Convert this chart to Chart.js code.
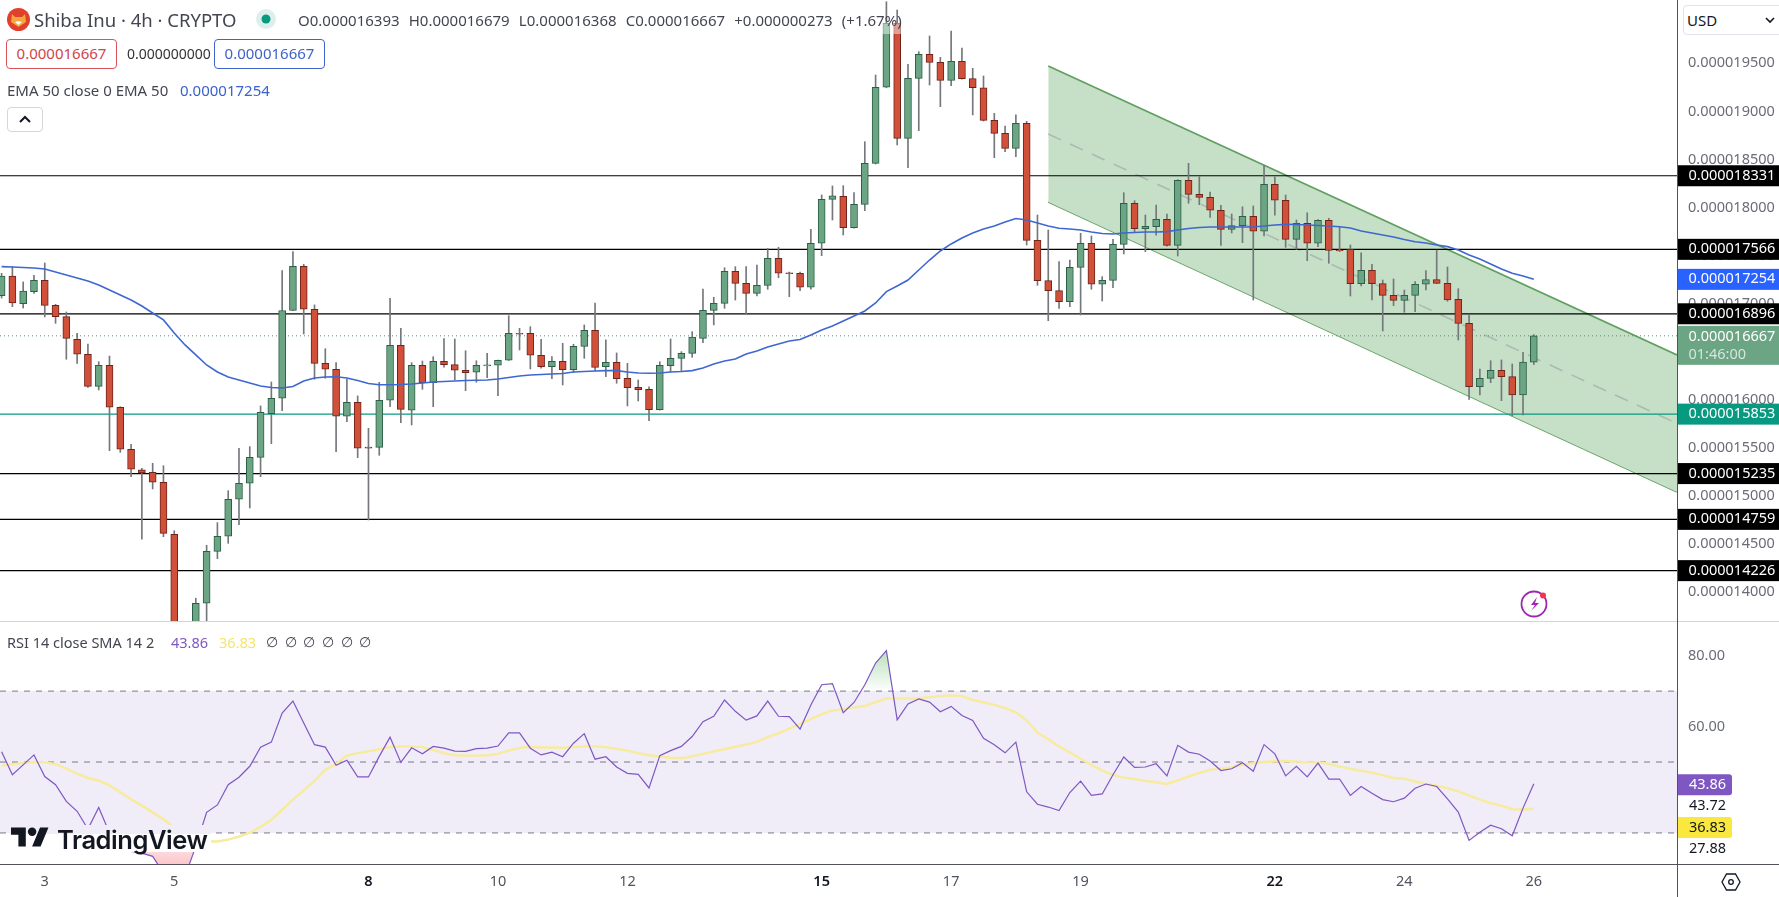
<!DOCTYPE html>
<html>
<head>
<meta charset="utf-8">
<title>Shiba Inu 4h</title>
<script src="https://cdn.jsdelivr.net/npm/chart.js@4"></script>
<style>
  html, body { margin: 0; padding: 0; background: #fff; }
  body { width: 1779px; height: 897px; position: relative; overflow: hidden; font-family: "Noto Sans", sans-serif; color: #434651; }
  canvas { position: absolute; left: 0; display: block; }
  #priceChart { top: 0; }
  #rsiChart { top: 622px; }
  .t { position: absolute; white-space: nowrap; line-height: 20px; font-size: 15px; }
  .box { position: absolute; box-sizing: border-box; border: 1px solid; border-radius: 4px; text-align: center; font-size: 15px; line-height: 27px; height: 30px; background: #fff; }
  .rule { position: absolute; }
  .btn { position: absolute; box-sizing: border-box; border: 1px solid #e0e3eb; border-radius: 4px; background: #fff; }
  svg { position: absolute; overflow: visible; }
</style>
</head>
<body>
<canvas id="priceChart" width="1779" height="622"></canvas>
<canvas id="rsiChart" width="1779" height="275"></canvas>

<!-- separators and axis line -->
<div class="rule" style="left:0;top:621px;width:1779px;height:1px;background:#d1d4dc"></div>
<div class="rule" style="left:0;top:864px;width:1779px;height:1px;background:#50535e"></div>
<div class="rule" style="left:1677px;top:0;width:1px;height:897px;background:#50535e"></div>

<!-- strip behind the legend, it fades the candles a little -->
<div class="rule" style="left:860px;top:23px;width:45px;height:11px;background:rgba(255,255,255,.45)"></div>

<!-- legend -->
<svg style="left:7px;top:8px" width="23" height="23" viewBox="0 0 23 23">
  <circle cx="11.5" cy="11.5" r="11.5" fill="#e0402c"/>
  <path d="M5 6l3 3h7l3-3 1 8-7.500 5-7.500-5z" fill="#f5a63c"/>
  <path d="M8 14l3.500 3 3.500-3-3.500-1z" fill="#fff"/>
</svg>
<div class="t" style="left:34px;top:10px;font-size:18.500px">Shiba Inu · 4h · CRYPTO</div>
<svg style="left:256px;top:9px" width="20" height="20"><circle cx="10" cy="10" r="10" fill="#dcefec"/><circle cx="10" cy="10" r="4.500" fill="#089981"/></svg>
<div class="t" style="left:298px;top:10px;word-spacing:5.300px">O0.000016393 H0.000016679 L0.000016368 C0.000016667 +0.000000273 (+1.67%)</div>

<div class="box" style="left:6px;top:39px;width:111px;border-color:#d8545a;color:#d0454b">0.000016667</div>
<div class="t" style="left:127px;top:44px;font-size:14px;color:#333">0.000000000</div>
<div class="box" style="left:214px;top:39px;width:111px;border-color:#3f63c8;color:#3f63c8">0.000016667</div>

<div class="t" style="left:7px;top:80px">EMA 50 close 0 EMA 50</div>
<div class="t" style="left:180px;top:80px;color:#3b62cc">0.000017254</div>

<div class="btn" style="left:7px;top:107px;width:36px;height:25px;border-color:#d6d6d6"></div>
<svg style="left:19px;top:115px" width="12" height="8"><path d="M1 7l5-5 5 5" fill="none" stroke="#131722" stroke-width="2"/></svg>

<!-- currency button -->
<div class="btn" style="left:1683px;top:5px;width:100px;height:30px"></div>
<div class="t" style="left:1687px;top:10px;font-size:15px;color:#131722">USD</div>
<svg style="left:1765px;top:17px" width="10" height="6"><path d="M1 1l4 4 4-4" fill="none" stroke="#131722" stroke-width="1.600"/></svg>

<!-- lightning badge -->
<svg style="left:1520px;top:590px" width="28" height="28" viewBox="0 0 28 28">
  <circle cx="14" cy="14" r="12.500" fill="none" stroke="#9c27b0" stroke-width="1.800"/>
  <path d="M17 7l-6 8h4l-4 6 8-8h-4z" fill="#9c27b0"/>
  <circle cx="23" cy="5.500" r="3" fill="#f23645"/>
</svg>

<!-- RSI legend -->
<div class="t" style="left:7px;top:632px;font-size:14.500px">RSI 14 close SMA 14 2</div>
<div class="t" style="left:171px;top:632px;font-size:14.500px;color:#7e57c2">43.86</div>
<div class="t" style="left:219px;top:632px;font-size:14.500px;color:#f5e56b">36.83</div>
<div class="t" style="left:266px;top:632px;font-size:14px;word-spacing:3px;color:#434651">∅ ∅ ∅ ∅ ∅ ∅</div>

<!-- TradingView mark, hides the lines that pass under it -->
<div class="rule" style="left:9px;top:825px;width:202px;height:9px;background:#f0ecf8;z-index:2"></div>
<div class="rule" style="left:9px;top:834px;width:202px;height:18px;background:#fff;z-index:2"></div>
<svg style="left:11px;top:823px;z-index:3" width="38" height="30" viewBox="0 0 36 28">
  <path d="M14 22H7V11H0V4h14v18zM28 22h-8l7.500-18h8L28 22z" fill="#131722"/>
  <circle cx="20" cy="8" r="4" fill="#131722"/>
</svg>
<div class="t" style="left:57px;top:827px;z-index:3;font-family:Inter,sans-serif;font-weight:600;font-size:25.500px;line-height:26px;letter-spacing:-.45px;color:#131722">TradingView</div>

<!-- settings icon -->
<svg style="left:1721px;top:873px" width="20" height="18" viewBox="0 0 20 18">
  <path d="M5.500 1h9l4.500 8-4.500 8h-9L1 9z" fill="none" stroke="#131722" stroke-width="1.300"/>
  <circle cx="10" cy="9" r="2.300" fill="none" stroke="#131722" stroke-width="1.300"/>
</svg>

<script>
// prices are kept in billionths, 16667 means 0.000016667
const opens = [
  17084,17289,17001,17126,17244,16984,16866,16631,16475,16142,
  16361,15924,15488,15275,15248,15145,14604,13297,13505,13887,
  14427,14583,14968,15134,15404,15858,16018,16930,17390,16943,
  16381,16319,15831,15976,15511,15508,15997,16569,15893,16361,
  16180,16402,16367,16309,16288,16355,16361,16413,16693,16693,
  16465,16346,16402,16315,16558,16725,16346,16392,16225,16132,
  16111,15899,16357,16433,16485,16641,16932,17005,17338,17213,
  17109,17192,17473,17322,17317,17172,17629,18086,18118,17791,
  18034,18460,19251,19916,18720,19344,19594,19510,19323,19521,
  19340,19246,18907,18772,18616,18876,17660,17240,17136,17022,
  17379,17629,17203,17244,17618,18045,17781,17802,17878,17608,
  18284,18138,18107,17972,17774,17812,17910,17754,18242,18076,
  17670,17837,17629,17868,17556,17566,17209,17348,17209,17088,
  17036,17088,17203,17251,17213,17046,16797,16138,16225,16309,
  16242,16052,16393
];
const closes = [
  17289,17008,17133,17244,16984,16866,16641,16475,16142,16361,
  15924,15488,15280,15241,15145,14614,13297,13401,13887,14427,
  14583,14968,15134,15404,15872,16018,16930,17390,16943,16381,
  16319,15831,15976,15498,15500,15997,16569,15903,16361,16180,
  16402,16367,16309,16284,16361,16365,16413,16693,16685,16465,
  16346,16402,16315,16558,16725,16338,16392,16221,16128,16107,
  15899,16361,16433,16485,16655,16932,17005,17338,17213,17109,
  17192,17473,17317,17312,17172,17629,18086,18121,17791,18034,
  18460,19251,19916,18720,19344,19594,19510,19323,19521,19340,
  19246,18907,18772,18616,18876,17660,17240,17136,17022,17379,
  17629,17203,17244,17618,18045,17781,17806,17878,17608,18284,
  18138,18107,17972,17774,17812,17910,17754,18242,18076,17670,
  17837,17629,17868,17556,17550,17209,17348,17209,17088,17036,
  17088,17203,17251,17213,17039,16797,16138,16225,16309,16242,
  16052,16393,16667
];
const highs = [
  17317,17386,17227,17296,17424,16995,16915,16693,16582,16398,
  16457,15930,15540,15290,15342,15317,14641,13500,13939,14490,
  14725,15057,15498,15515,15938,16187,17344,17542,17411,16988,
  16533,16388,16215,16042,15706,16184,17057,16745,16388,16405,
  16450,16637,16634,16512,16408,16485,16415,16876,16745,16762,
  16631,16450,16589,16579,16780,17008,16624,16489,16381,16208,
  16138,16398,16634,16502,16710,17154,17068,17375,17386,17386,
  17403,17577,17587,17330,17330,17774,18131,18225,18228,18155,
  18685,19378,20140,20054,19490,19621,19784,19562,19836,19659,
  19448,19368,18980,18848,18963,18897,17923,17767,17438,17455,
  17733,17705,17282,17670,18155,18072,17923,18027,17933,18290,
  18460,18321,18162,18024,17933,18009,18017,18440,18321,18131,
  17871,17947,17875,17889,17801,17611,17531,17411,17247,17258,
  17143,17230,17344,17559,17383,17157,16884,16322,16408,16416,
  16374,16496,16679
];
const lows = [
  17060,16970,16956,17109,16863,16797,16423,16381,16130,16104,
  15473,15456,15203,14552,15075,14579,13173,13100,13400,13600,
  14350,14510,14704,14877,15203,15546,15889,16928,16686,16215,
  16226,15463,15774,15400,14753,15425,15930,15764,15740,16111,
  15930,16340,16208,16097,16184,16232,16045,16410,16520,16322,
  16330,16221,16156,16288,16433,16301,16242,16174,15938,15990,
  15785,15895,16294,16301,16444,16596,16780,16953,17039,16894,
  17081,17151,17271,17074,17136,17151,17500,17871,17715,17785,
  17968,18453,19245,18651,18415,18799,19274,19049,19267,19335,
  18963,18900,18519,18581,18529,17611,17192,16824,16953,16970,
  16884,17151,17029,17167,17518,17749,17542,17712,17600,17497,
  18045,18030,17899,17608,17736,17635,17039,17705,17920,17587,
  17566,17448,17594,17421,17542,17081,17185,17039,16717,16980,
  16912,16918,17143,17210,17026,16624,16007,16052,16180,15993,
  15834,15844,16368
];
const ema50 = [
  17386,17382,17377,17372,17362,17331,17299,17268,17237,17195,
  17143,17091,17039,16977,16904,16832,16696,16572,16468,16364,
  16291,16239,16208,16177,16146,16130,16125,16140,16197,16229,
  16239,16242,16229,16203,16172,16159,16159,16161,16166,16177,
  16187,16192,16197,16203,16205,16208,16218,16234,16250,16260,
  16265,16270,16275,16291,16296,16301,16305,16305,16291,16281,
  16278,16281,16291,16296,16305,16333,16374,16405,16426,16478,
  16509,16551,16582,16613,16629,16676,16728,16769,16821,16873,
  16925,17008,17126,17185,17247,17351,17455,17549,17622,17684,
  17736,17778,17809,17850,17887,17871,17840,17809,17785,17778,
  17767,17746,17731,17726,17736,17741,17746,17746,17750,17767,
  17783,17793,17798,17798,17798,17798,17798,17809,17819,17826,
  17824,17819,17814,17809,17801,17788,17757,17736,17715,17694,
  17668,17645,17632,17611,17594,17559,17507,17466,17414,17362,
  17317,17289,17254
];
const rsi = [
  52.9,46.4,49.2,52.0,45.9,43.6,38.9,36.1,31.1,37.2,
  30.0,26.7,24.8,24.3,23.4,18.7,15.9,17.8,26.2,35.8,
  37.9,43.6,45.7,48.8,54.2,55.6,63.8,67.2,61.0,54.9,
  54.2,49.1,50.5,45.8,45.8,51.6,57.0,49.9,54.0,52.3,
  54.4,53.9,53.1,53.0,53.8,53.9,54.5,58.2,58.2,53.9,
  52.0,52.8,51.5,55.3,58.0,50.8,51.5,48.6,46.8,46.5,
  42.7,51.8,53.2,54.4,57.2,61.4,62.9,67.5,64.3,61.8,
  63.0,67.2,62.9,62.8,59.3,66.1,71.8,72.1,63.9,66.8,
  71.8,77.9,81.4,61.9,66.4,67.8,66.9,64.2,65.7,63.1,
  61.7,56.7,54.9,52.6,55.6,41.6,38.1,37.3,36.3,41.4,
  44.6,40.6,41.0,46.4,51.4,48.5,48.6,49.5,46.1,54.7,
  52.8,52.2,50.3,47.6,48.1,49.8,47.4,54.9,52.3,46.1,
  48.8,45.8,49.7,45.2,45.2,40.6,43.1,41.2,39.4,38.8,
  39.8,42.6,43.8,43.1,39.6,35.9,27.9,30.2,32.2,31.2,
  29.2,37.0,43.86
];
const rsiMa = [
  49.0,49.4,49.7,50.0,49.9,49.4,48.1,46.7,45.5,44.8,
  43.4,41.5,39.5,37.7,35.8,33.9,31.4,29.5,28.1,27.6,
  27.6,28.1,29.0,30.0,31.7,33.7,36.5,39.4,42.0,44.7,
  47.8,49.5,51.8,52.5,53.0,53.6,54.2,54.4,54.4,54.2,
  53.4,52.5,51.9,51.8,51.8,51.9,52.3,53.2,54.0,54.3,
  54.1,54.1,54.0,54.2,54.4,54.4,54.2,53.7,53.2,52.5,
  51.9,51.6,51.2,51.1,51.6,52.3,53.0,53.6,54.3,54.9,
  55.7,57.0,58.1,59.4,60.8,62.1,63.5,64.5,64.9,65.4,
  65.8,66.9,67.9,67.9,67.9,68.0,68.3,68.6,68.8,68.6,
  67.5,66.8,66.1,65.2,64.0,61.7,58.3,56.4,54.4,52.7,
  50.9,49.2,47.6,46.4,45.6,45.2,44.7,44.3,43.8,44.8,
  45.9,46.9,47.8,48.2,48.5,49.2,49.7,50.0,50.2,50.3,
  50.1,49.9,49.9,49.5,48.7,48.1,47.5,47.0,46.3,45.5,
  45.3,44.5,43.8,43.3,42.6,41.7,40.5,39.4,38.4,37.7,
  36.7,36.6,36.83
];

// drawn levels, in the same billionths
const blackLevels = [18331, 17566, 16896, 15235, 14759, 14226];
const tealLevel = 15853;
const lastPrice = 16667;

// regression channel, from candle 97 to the right edge of the pane
const channelXs = [97, 155.27];
const channelTop = [19472, 16468];
const channelMid = [18765, 15756];
const channelBottom = [18058, 15044];

// axes
const xMin = -0.148;
const xMax = 155.27;
const priceMin = 13692;
const priceMax = 20158;
const priceTicks = [14000, 14500, 15000, 15500, 16000, 16500, 17000, 17500, 18000, 18500, 19000, 19500];
const rsiMin = 21.24;
const rsiMax = 89.49;
const rsiTicks = [80, 60];
const rsiBands = [70, 50, 30];
const dayIndexes = [4, 16, 34, 46, 58, 76, 88, 100, 118, 130, 142];
const dayLabels = ['3', '5', '8', '10', '12', '15', '17', '19', '22', '24', '26'];
const boldDays = ['8', '15', '22'];

// boxes on the right hand scale
const priceBadges = [
  { value: 18331, text: '0.000018331', bg: '#000000' },
  { value: 17566, text: '0.000017566', bg: '#000000' },
  { value: 17254, text: '0.000017254', bg: '#2962ff' },
  { value: 16896, text: '0.000016896', bg: '#000000' },
  { value: 15853, text: '0.000015853', bg: '#089981' },
  { value: 15235, text: '0.000015235', bg: '#000000' },
  { value: 14759, text: '0.000014759', bg: '#000000' },
  { value: 14226, text: '0.000014226', bg: '#000000' }
];
const rsiBadges = [
  { value: 43.6, text: '43.86', bg: '#7e57c2', fg: '#ffffff' },
  { value: 31.5, text: '36.83', bg: '#fbe83f', fg: '#131722' }
];
const rsiPlainLabels = [
  { value: 37.7, text: '43.72' },
  { value: 25.6, text: '27.88' }
];

const axisFont = { family: '"Noto Sans", sans-serif', size: 14.5 };
const tickColor = '#6a6d78';
const upFill = '#6ba583';
const upEdge = '#2c5f48';
const downFill = '#d0503a';
const downEdge = '#6f231a';
const wickColor = '#74787c';

function toPoints(values) {
  return values.map((v, i) => ({ x: i, y: v }));
}

function flatLine(value, color, order, extra) {
  return Object.assign({
    type: 'line',
    data: [{ x: xMin, y: value }, { x: xMax, y: value }],
    borderColor: color,
    borderWidth: 1,
    pointRadius: 0,
    order: order
  }, extra || {});
}

function channelLine(values, color, order, extra) {
  return Object.assign({
    type: 'line',
    data: channelXs.map((x, i) => ({ x: x, y: values[i] })),
    borderColor: color,
    borderWidth: 1.6,
    pointRadius: 0,
    order: order
  }, extra || {});
}

// keeps the plot area flush with the canvas and the scale at a fixed size
function fixSize(size) {
  return function (scale) {
    if (scale.isHorizontal()) scale.height = size; else scale.width = size;
    scale.paddingTop = 0;
    scale.paddingBottom = 0;
    scale.paddingLeft = 0;
    scale.paddingRight = 0;
  };
}

function setTicks(values) {
  return function (scale) {
    scale.ticks = values.map(v => ({ value: v }));
  };
}

function isBoldDay(ctx) {
  return ctx.tick && boldDays.includes(dayLabels[dayIndexes.indexOf(ctx.tick.value)]);
}

// draws the boxes over the tick labels
const priceBadgePlugin = {
  id: 'priceBadges',
  afterDraw(chart) {
    const ctx = chart.ctx;
    const y = chart.scales.y;
    ctx.save();
    ctx.font = '14.5px "Noto Sans", sans-serif';
    ctx.textBaseline = 'middle';
    ctx.textAlign = 'left';
    priceBadges.forEach(b => {
      const py = y.getPixelForValue(b.value);
      ctx.fillStyle = b.bg;
      ctx.fillRect(1677, py - 10.5, 102, 21);
      ctx.fillStyle = '#ffffff';
      ctx.fillText(b.text, 1688.5, py);
    });
    // last price with the countdown under it
    const py = y.getPixelForValue(lastPrice);
    ctx.fillStyle = upFill;
    ctx.fillRect(1677, py - 10, 102, 39);
    ctx.fillStyle = '#ffffff';
    ctx.fillText('0.000016667', 1688.5, py + 1);
    ctx.fillStyle = 'rgba(255,255,255,.72)';
    ctx.fillText('01:46:00', 1688.5, py + 19);
    ctx.restore();
  }
};

const rsiBadgePlugin = {
  id: 'rsiBadges',
  afterDraw(chart) {
    const ctx = chart.ctx;
    const y = chart.scales.y;
    ctx.save();
    ctx.font = '14.5px "Noto Sans", sans-serif';
    ctx.textBaseline = 'middle';
    ctx.textAlign = 'left';
    rsiBadges.forEach(b => {
      const py = y.getPixelForValue(b.value);
      ctx.fillStyle = b.bg;
      ctx.beginPath();
      ctx.roundRect(1677, py - 10.5, 55, 21, [0, 3, 3, 0]);
      ctx.fill();
      ctx.fillStyle = b.fg;
      ctx.fillText(b.text, 1689, py);
    });
    ctx.fillStyle = '#131722';
    rsiPlainLabels.forEach(l => {
      ctx.fillText(l.text, 1689, y.getPixelForValue(l.value));
    });
    ctx.restore();
  }
};

const commonOptions = {
  responsive: false,
  animation: false,
  events: [],
  layout: { padding: 0 },
  plugins: { legend: { display: false }, tooltip: { enabled: false } }
};

new Chart(document.getElementById('priceChart'), {
  type: 'bar',
  data: {
    datasets: [
      {
        type: 'line',
        data: toPoints(ema50),
        borderColor: '#3f67d1',
        borderWidth: 1.6,
        pointRadius: 0,
        order: 0
      },
      {
        data: opens.map((o, i) => ({ x: i, y: [o, closes[i]] })),
        backgroundColor: opens.map((o, i) => closes[i] >= o ? upFill : downFill),
        borderColor: opens.map((o, i) => closes[i] >= o ? upEdge : downEdge),
        borderWidth: 1,
        borderSkipped: false,
        barThickness: 7,
        grouped: false,
        order: 1
      },
      {
        data: lows.map((l, i) => ({ x: i, y: [l, highs[i]] })),
        backgroundColor: wickColor,
        barThickness: 1,
        grouped: false,
        order: 2
      },
      ...blackLevels.map(v => flatLine(v, '#000000', 3, { borderWidth: 1.2 })),
      flatLine(tealLevel, '#089981', 3, { borderWidth: 1.3 }),
      flatLine(lastPrice, '#5a8a72', 3, { borderDash: [1, 3] }),
      channelLine(channelMid, 'rgba(165,180,175,.85)', 4, { borderDash: [14, 10] }),
      channelLine(channelTop, '#5f9f5f', 5, { fill: '+1', backgroundColor: '#c6dfc7' }),
      channelLine(channelBottom, '#5f9f5f', 5)
    ]
  },
  options: Object.assign({}, commonOptions, {
    scales: {
      x: {
        type: 'linear',
        offset: false,
        min: xMin,
        max: xMax,
        display: false
      },
      y: {
        type: 'linear',
        position: 'right',
        min: priceMin,
        max: priceMax,
        grid: { display: false, drawTicks: false },
        border: { display: false },
        ticks: {
          padding: 11,
          color: tickColor,
          font: axisFont,
          callback: v => (v / 1e9).toFixed(9)
        },
        afterBuildTicks: setTicks(priceTicks),
        afterFit: fixSize(102)
      }
    }
  }),
  plugins: [priceBadgePlugin]
});

// fades for the shading above 70 and below 30
const rsiCanvas = document.getElementById('rsiChart');
const greenFade = rsiCanvas.getContext('2d').createLinearGradient(0, 30, 0, 70);
greenFade.addColorStop(0, 'rgba(76,175,80,.38)');
greenFade.addColorStop(1, 'rgba(76,175,80,0)');
const redFade = rsiCanvas.getContext('2d').createLinearGradient(0, 212, 0, 242);
redFade.addColorStop(0, 'rgba(242,54,69,.05)');
redFade.addColorStop(1, 'rgba(242,54,69,.28)');

new Chart(rsiCanvas, {
  type: 'line',
  data: {
    datasets: [
      { data: toPoints(rsi), borderColor: '#7e57c2', borderWidth: 1.2, pointRadius: 0, order: 1 },
      { data: toPoints(rsiMa), borderColor: '#f7eb9c', borderWidth: 2.4, pointRadius: 0, order: 2 },
      // overbought and oversold shading sit behind the lines
      {
        data: toPoints(rsi),
        borderWidth: 0,
        pointRadius: 0,
        fill: { target: { value: 70 }, above: greenFade, below: 'transparent' },
        order: 3
      },
      {
        data: toPoints(rsi),
        borderWidth: 0,
        pointRadius: 0,
        fill: { target: { value: 30 }, above: 'transparent', below: redFade },
        order: 3
      },
      ...rsiBands.map(v => flatLine(v, '#787b86', 4, { borderDash: [6, 6] })),
      flatLine(rsiBands[0], 'transparent', 5, { fill: { target: { value: rsiBands[2] } }, backgroundColor: '#f0ecf8' })
    ]
  },
  options: Object.assign({}, commonOptions, {
    scales: {
      x: {
        type: 'linear',
        min: xMin,
        max: xMax,
        grid: { display: false, drawTicks: false },
        border: { display: false },
        ticks: {
          padding: 9,
          autoSkip: false,
          maxRotation: 0,
          color: ctx => isBoldDay(ctx) ? '#131722' : '#50535e',
          font: ctx => ({
            family: axisFont.family,
            size: 14.5,
            weight: isBoldDay(ctx) ? '600' : '400'
          }),
          callback: v => dayLabels[dayIndexes.indexOf(v)]
        },
        afterBuildTicks: setTicks(dayIndexes),
        afterFit: fixSize(33)
      },
      y: {
        type: 'linear',
        position: 'right',
        min: rsiMin,
        max: rsiMax,
        grid: { display: false, drawTicks: false },
        border: { display: false },
        ticks: {
          padding: 11,
          color: tickColor,
          font: axisFont,
          callback: v => v.toFixed(2)
        },
        afterBuildTicks: setTicks(rsiTicks),
        afterFit: fixSize(102)
      }
    }
  }),
  plugins: [rsiBadgePlugin]
});
</script>
</body>
</html>
